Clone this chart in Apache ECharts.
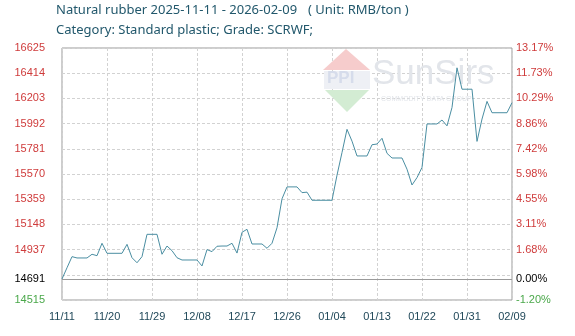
<!DOCTYPE html>
<html>
<head>
<meta charset="utf-8">
<script src="https://cdn.jsdelivr.net/npm/echarts@6/dist/echarts.min.js"></script>
<style>html,body{margin:0;padding:0;background:#fff;}#c{width:575px;height:336px;}</style>
</head>
<body>
<div id="c"></div>
<script>
var dates = [
 '11/11','11/12','11/13','11/14','11/15','11/16','11/17','11/18','11/19','11/20',
 '11/21','11/22','11/23','11/24','11/25','11/26','11/27','11/28','11/29','11/30',
 '12/01','12/02','12/03','12/04','12/05','12/06','12/07','12/08','12/09','12/10',
 '12/11','12/12','12/13','12/14','12/15','12/16','12/17','12/18','12/19','12/20',
 '12/21','12/22','12/23','12/24','12/25','12/26','12/27','12/28','12/29','12/30',
 '12/31','01/01','01/02','01/03','01/04','01/05','01/06','01/07','01/08','01/09',
 '01/10','01/11','01/12','01/13','01/14','01/15','01/16','01/17','01/18','01/19',
 '01/20','01/21','01/22','01/23','01/24','01/25','01/26','01/27','01/28','01/29',
 '01/30','01/31','02/01','02/02','02/03','02/04','02/05','02/06','02/07','02/08',
 '02/09'
];
var prices = [
 14691,14785,14878,14867,14867,14867,14898,14886,14990,14906,
 14906,14906,14906,14981,14869,14827,14878,15065,15065,15065,
 14898,14967,14928,14869,14850,14850,14850,14850,14800,14937,
 14920,14965,14967,14967,14990,14908,15082,15107,14984,14984,
 14984,14948,14990,15120,15362,15462,15462,15462,15414,15418,
 15350,15350,15350,15350,15350,15560,15750,15944,15845,15721,
 15721,15721,15815,15821,15869,15743,15704,15704,15704,15610,
 15478,15540,15625,15989,15989,15989,16022,15973,16127,16459,
 16280,16280,16280,15843,16030,16178,16083,16083,16083,16083,
 16167
];
var baseValue = 14691;
var baseLabelLeft = '14691';
var baseLabelRight = '0.00%';
var yMin = 14515, yMax = 16625, yStep = 211;
var leftTicks = ['14515','','14937','15148','15359','15570','15781','15992','16203','16414','16625'];
var rightTicks = ['-1.20%','','1.68%','3.11%','4.55%','5.98%','7.42%','8.86%','10.29%','11.73%','13.17%'];
var titleText = 'Natural rubber 2025-11-11 - 2026-02-09';
var unitText = '( Unit: RMB/ton )';
var subText = 'Category: Standard plastic; Grade: SCRWF;';

var RED = '#cf3b3b', GREEN = '#4aa84a', LBL = '#21495a', TITLE = '#22586c';
var FF = 'Liberation Sans';
function idx(v){ return Math.round((v - yMin) / yStep); }
function fmt(arr){
  return function(v){
    var i = idx(v); var t = arr[i] || '';
    if (!t) return '';
    return (i === 0 ? '{g|' : '{r|') + t + '}';
  };
}

var chart = echarts.init(document.getElementById('c'), null, {renderer:'canvas'});
chart.setOption({
  animation:false,
  backgroundColor:'#fff',
  title:[
    {text:titleText, left:56, top:4, padding:0, textStyle:{fontFamily:'Noto Sans', fontSize:13, fontWeight:'normal', color:TITLE}},
    {text:unitText, left:308, top:4, padding:0, textStyle:{fontFamily:'Noto Sans', fontSize:13, fontWeight:'normal', color:TITLE}},
    {text:subText, left:56, top:24, padding:0, textStyle:{fontFamily:'Noto Sans', fontSize:13, fontWeight:'normal', color:TITLE}}
  ],
  graphic:[
    {type:'polygon', z:1, silent:true, shape:{points:[[323,70],[346,49],[370,70]]}, style:{fill:'#f6cccc'}},
    {type:'rect', z:1, silent:true, shape:{x:324,y:71,width:46,height:18}, style:{fill:'#eef0f5'}},
    {type:'text', z:1, silent:true, left:327, top:70, style:{text:'PPI', font:'bold 17px Liberation Sans', fill:'#d6dceb'}},
    {type:'polygon', z:1, silent:true, shape:{points:[[325,90],[369,90],[347,112]]}, style:{fill:'#d3ecd3'}},
    {type:'text', z:1, silent:true, left:372, top:57, style:{text:'SunSirs', font:'35px Liberation Sans', fill:'#e2e5ea'}},
    {type:'text', z:1, silent:true, left:381, top:96, style:{text:'COMMODITY DATA GROUP', font:'7px Liberation Sans', fill:'#e2e5ea'}}
  ],
  grid:{left:62, right:63, top:48, bottom:36, show:true, borderColor:'#9a9a9a', borderWidth:1, backgroundColor:'transparent'},
  xAxis:{
    type:'category', data:dates, boundaryGap:false,
    axisLine:{show:false}, axisTick:{show:false},
    axisLabel:{interval:8, margin:11, color:LBL, fontFamily:FF, fontSize:11},
    splitLine:{show:true, interval:8, lineStyle:{color:'#d2d2d2', type:[3,2], width:1}}
  },
  yAxis:[
    {type:'value', min:yMin, max:yMax, interval:yStep, position:'left',
     axisLine:{show:false}, axisTick:{show:false},
     splitLine:{show:true, lineStyle:{color:'#d2d2d2', type:[3,2], width:1}},
     axisLabel:{margin:17, fontFamily:FF, fontSize:11, color:RED, formatter:fmt(leftTicks),
       rich:{g:{color:GREEN, fontFamily:FF, fontSize:11}, r:{color:RED, fontFamily:FF, fontSize:11}}}},
    {type:'value', min:yMin, max:yMax, interval:yStep, position:'right',
     axisLine:{show:false}, axisTick:{show:false}, splitLine:{show:false},
     axisLabel:{margin:4, fontFamily:FF, fontSize:11, color:RED, formatter:fmt(rightTicks),
       rich:{g:{color:GREEN, fontFamily:FF, fontSize:11}, r:{color:RED, fontFamily:FF, fontSize:11}}}}
  ],
  series:[{
    type:'line', data:prices, yAxisIndex:0, showSymbol:false, symbol:'none',
    lineStyle:{color:'#4a8ea2', width:1}, z:3,
    markLine:{
      silent:true, symbol:'none', animation:false,
      lineStyle:{color:'#9a9a9a', type:'solid', width:1},
      data:[
        {yAxis:baseValue, label:{position:'start', distance:17, formatter:baseLabelLeft, color:'#000', fontFamily:FF, fontSize:11}},
        {yAxis:baseValue, label:{position:'end', distance:4, formatter:baseLabelRight, color:'#000', fontFamily:FF, fontSize:11}}
      ]
    }
  }]
});
</script>
</body>
</html>
